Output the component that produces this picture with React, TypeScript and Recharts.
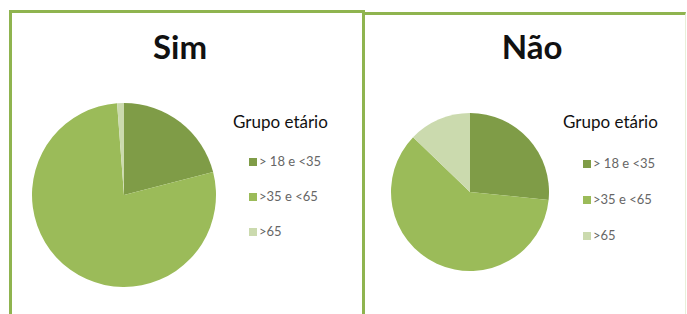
import React from 'react'
import { PieChart, Pie, Cell, Legend } from 'recharts'

// Age groups shared by both pies
const CATEGORIES = ['> 18 e <35', '>35 e <65', '>65']
// Share of each age group (percent)
const SIM_VALUES = [21, 77.8, 1.2]
const NAO_VALUES = [26.6, 60.6, 12.8]
const TITLES = ['Sim', 'Não']
const LEGEND_TITLE = 'Grupo etário'

const SLICE_COLORS = ['#7f9c47', '#9bbb59', '#cbdaae']
const FRAME = '#8fb44f'
const FONT = 'Lato, "Open Sans", sans-serif'

const toRows = (vals: number[]) => CATEGORIES.map((name, i) => ({ name, value: vals[i] }))

function makeLegend(offsetTop: number, itemH: number, indent: number) {
  return (props: any) => {
    const payload = props.payload || []
    return (
      <div style={{ fontFamily: FONT }}>
        <div style={{ fontSize: 17, lineHeight: '20px', color: '#111' }}>{LEGEND_TITLE}</div>
        <div style={{ marginTop: offsetTop }}>
          {payload.map((p: any, i: number) => (
            <div key={i} style={{ height: itemH, lineHeight: itemH + 'px', paddingLeft: indent, fontSize: 13, color: '#666', whiteSpace: 'nowrap' }}>
              <span style={{ display: 'inline-block', width: 8, height: 8, background: p.color, marginRight: 2, verticalAlign: 'middle', position: 'relative', top: -1 }} />
              {p.value}
            </div>
          ))}
        </div>
      </div>
    )
  }
}

type PanelProps = {
  title: string
  values: number[]
  left: number
  width: number
  cx: number
  cy: number
  r: number
  titleX: number
  legendLeft: number
  legendOffset: number
  itemH: number
  indent: number
}

function Panel(p: PanelProps) {
  return (
    <div style={{ position: 'absolute', left: p.left, top: 0, width: p.width, height: 314 }}>
      <div style={{ position: 'absolute', left: p.titleX - 60, top: 26, width: 120, textAlign: 'center', fontFamily: FONT, fontWeight: 700, fontSize: 33, lineHeight: '40px', color: '#111' }}>
        {p.title}
      </div>
      <PieChart width={p.width} height={314} margin={{ top: 0, right: 0, bottom: 0, left: 0 }}>
        <Pie
          data={toRows(p.values)}
          dataKey="value"
          nameKey="name"
          cx={p.cx}
          cy={p.cy}
          outerRadius={p.r}
          startAngle={90}
          endAngle={-270}
          stroke="none"
          isAnimationActive={false}
        >
          {p.values.map((_, i) => (
            <Cell key={i} fill={SLICE_COLORS[i]} />
          ))}
        </Pie>
        <Legend
          layout="vertical"
          content={makeLegend(p.legendOffset, p.itemH, p.indent)}
          wrapperStyle={{ position: 'absolute', left: p.legendLeft, top: 112, width: 130 }}
        />
      </PieChart>
    </div>
  )
}

export default function App() {
  return (
    <div style={{ position: 'absolute', left: 0, top: 0, width: 687, height: 314, overflow: 'hidden', background: '#fff' }}>
      <div style={{ position: 'absolute', left: 9, top: 10, width: 350, height: 320, border: `3px solid ${FRAME}`, borderBottom: 'none' }} />
      <div style={{ position: 'absolute', left: 362, top: 12, width: 320, height: 320, border: `3px solid ${FRAME}`, borderBottom: 'none', borderRight: '1px solid #e8efd9' }} />
      <Panel title={TITLES[0]} values={SIM_VALUES} left={0} width={360} cx={124} cy={195} r={92}
        titleX={180} legendLeft={233} legendOffset={12} itemH={35} indent={16} />
      <Panel title={TITLES[1]} values={NAO_VALUES} left={360} width={327} cx={110} cy={192} r={79}
        titleX={172} legendLeft={203} legendOffset={13} itemH={36} indent={20} />
    </div>
  )
}
